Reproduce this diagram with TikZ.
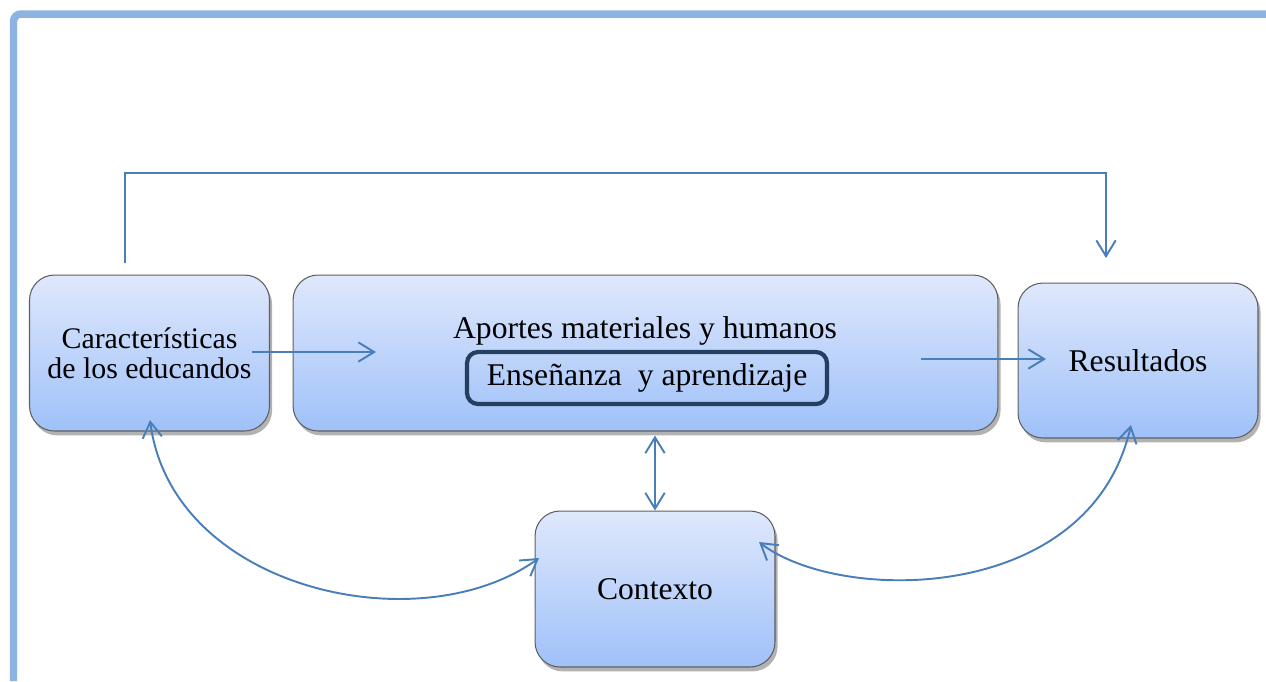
\documentclass[tikz,border=0pt]{standalone}
\usepackage{fontspec}
\setmainfont{Liberation Serif}
\usetikzlibrary{arrows.meta,shadows}

\definecolor{framecol}{HTML}{8DB3E2}
\definecolor{boxtop}{HTML}{DFE8FC}
\definecolor{boxbot}{HTML}{9FC1F9}
\definecolor{boxline}{HTML}{5F5F5F}
\definecolor{linkblue}{HTML}{4A7EBB}
\definecolor{innerline}{HTML}{243F60}

\begin{document}
\begin{tikzpicture}[x=0.02cm,y=-0.02cm,
            >={Straight Barb[length=9pt,width=11pt]},
            box/.style={rectangle,rounded corners=0.5cm,draw=boxline,line width=0.6pt,
              top color=boxtop,bottom color=boxbot,
              drop shadow={shadow xshift=1.5pt,shadow yshift=-2.5pt,fill=black,opacity=0.3},
              minimum width=4.8cm,minimum height=3.12cm,inner sep=0pt,
              align=center,font=\fontsize{18}{17}\selectfont},
            innerbox/.style={rectangle,rounded corners=0.22cm,draw=innerline,line width=2.4pt,
              minimum width=7.2cm,minimum height=1.04cm,inner sep=0pt,
              font=\fontsize{18}{17}\selectfont},
            link/.style={draw=linkblue,line width=1.1pt}]

          \useasboundingbox (0,0) rectangle (1266,681);

          % frame
          \draw[draw=framecol,line width=0.15cm,rounded corners=0.15cm]
            (13.5,681) -- (13.5,14) -- (1266,14);

          \node[box,font=\fontsize{17}{17}\selectfont]
                                             (caract)   at ( 149.5, 353) {Características\\de los educandos};
          \node[box,minimum width=14.1cm]    (aportes)  at ( 645.5, 353) {};
          \node[box,minimum height=3.1cm]    (result)   at (1138,  360.5) {Resultados};
          \node[box]                         (contexto) at ( 655,  589) {Contexto};

          \node[font=\fontsize{18}{17}\selectfont] (aporteslbl) at (645,331) {Aportes materiales y humanos};
          \node[innerbox]                    (ensen)    at ( 647,  378) {Enseñanza~ y aprendizaje};

          \coordinate (topfrom) at ( 125, 263);
          \coordinate (topto)   at (1106, 258);
          \coordinate (ca1) at ( 252, 352);
          \coordinate (ap1) at ( 376, 352);
          \coordinate (ap2) at ( 921, 359);
          \coordinate (re1) at (1046, 359);
          \coordinate (ca2) at ( 150, 420);
          \coordinate (co1) at ( 539, 558);
          \coordinate (co2) at ( 759, 542);
          \coordinate (re2) at (1131, 425);

          \path[link] (ca1) edge[->] (ap1)
                      (ap2) edge[->] (re1)
                      (aportes.south -| contexto.north)
                            edge[<->,shorten <=0.08cm] (contexto.north);

          \draw[link,->] (topfrom) -- ++(0,-90) -| (topto);
          \draw[link,<->] (ca2) .. controls +(22,170) and +(-119,86) .. (co1);
          \draw[link,<->] (co2) .. controls +(80,62) and +(-41,180) .. (re2);
        \end{tikzpicture}
\end{document}
